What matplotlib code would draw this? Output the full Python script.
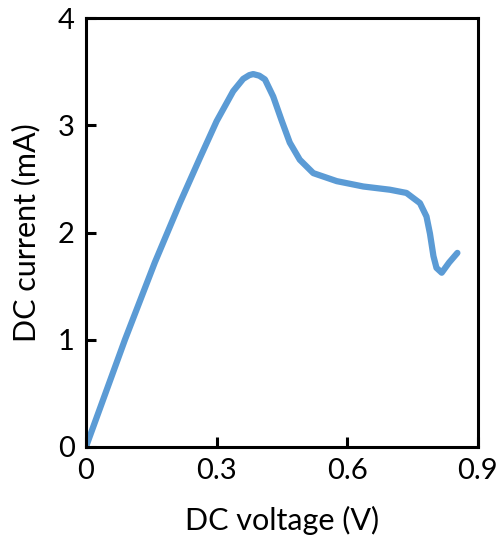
import matplotlib
matplotlib.use("Agg")
import matplotlib.pyplot as plt

voltage = [0, 0.0895, 0.158, 0.216, 0.262, 0.300, 0.338, 0.361, 0.375, 0.384, 0.398, 0.411,
           0.430, 0.449, 0.468, 0.491, 0.522, 0.576, 0.637, 0.698, 0.736, 0.767, 0.782,
           0.790, 0.798, 0.805, 0.817, 0.834, 0.853]
current = [0, 1.0, 1.72, 2.28, 2.70, 3.04, 3.32, 3.435, 3.47, 3.48, 3.465, 3.43,
           3.27, 3.05, 2.84, 2.68, 2.555, 2.48, 2.43, 2.40, 2.37, 2.275, 2.15,
           1.99, 1.78, 1.67, 1.625, 1.72, 1.81]
xticks = [0, 0.3, 0.6, 0.9]
xticklabels = ["0", "0.3", "0.6", "0.9"]
yticks = [0, 1, 2, 3, 4]

plt.rcParams['font.family'] = ['Lato', 'DejaVu Sans']

fig = plt.figure(figsize=(5.03, 5.41), dpi=100)
ax = fig.add_axes([0.171, 0.1743, 0.779, 0.7917])
ax.plot(voltage, current, color='#5b9bd5', lw=4.5, solid_capstyle='round', solid_joinstyle='round')
ax.set_xlim(0, 0.9)
ax.set_ylim(0, 4)
ax.set_xticks(xticks)
ax.set_xticklabels(xticklabels)
ax.set_yticks(yticks)
for s in ax.spines.values():
    s.set_linewidth(2.2)
ax.tick_params(direction='in', length=7, width=2.2, labelsize=21, pad=8)
ax.set_xlabel('DC voltage (V)', fontsize=22, labelpad=16)
ax.set_ylabel('DC current (mA)', fontsize=22, labelpad=13)
fig.savefig('out.png', dpi=100)
